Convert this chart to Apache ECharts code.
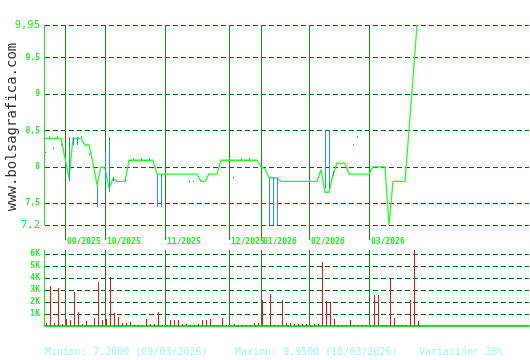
<!DOCTYPE html>
<html><head><meta charset="utf-8">
<script src="https://cdn.jsdelivr.net/npm/echarts@6/dist/echarts.min.js"></script>
<style>html,body{margin:0;padding:0;background:#fff}#c{width:530px;height:360px}</style>
</head><body><div id="c"></div>
<script>
// ---- data ----
const SLOTS = 122;
const monthStarts = [5, 15, 30, 46, 54, 66, 81];
const monthLabels = ['09/2025', '10/2025', '11/2025', '12/2025', '01/2026', '02/2026', '03/2026'];
const priceTicks = [7.2, 7.5, 8, 8.5, 9, 9.5, 9.95];
const volumeTicks = [1000, 2000, 3000, 4000, 5000, 6000];

const prices = [
  8.39, 8.39, 8.39, 8.39, 8.39, 8.12, 7.84, 8.39, 8.39, 8.39,
  8.30, 8.30, 8.05, 7.75, 8.00, 7.98, 7.70, 7.84, 7.80, 7.80,
  7.80, 8.09, 8.09, 8.09, 8.09, 8.09, 8.09, 8.09, 7.90, 7.90,
  7.90, 7.90, 7.90, 7.90, 7.90, 7.90, 7.90, 7.90, 7.90, 7.80,
  7.80, 7.90, 7.90, 7.90, 8.09, 8.09, 8.09, 8.09, 8.09, 8.09,
  8.09, 8.09, 8.09, 8.09, 8.00, 7.97, 7.85, 7.85, 7.85, 7.80,
  7.80, 7.80, 7.80, 7.80, 7.80, 7.80, 7.80, 7.80, 7.80, 7.96,
  7.65, 7.65, 7.89, 8.05, 8.05, 8.05, 7.90, 7.90, 7.90, 7.90,
  7.90, 7.90, 8.00, 8.00, 8.00, 8.00, 7.20, 7.80, 7.80, 7.80,
  7.80, 8.50, 9.22, 9.95
];

const volumes = [
  250, 3330, 250, 3170, 170, 560, 500, 2830, 1170, 170,
  420, 80, 670, 3670, 500, 550, 4080, 1060, 750, 250,
  250, 330, 80, 80, 80, 580, 170, 170, 1170, 80,
  50, 500, 500, 500, 170, 170, 80, 80, 170, 500,
  500, 580, 80, 80, 670, 80, 50, 170, 80, 80,
  80, 80, 250, 250, 2170, 80, 2670, 80, 80, 2170,
  250, 250, 170, 170, 170, 170, 50, 170, 170, 5330,
  2060, 2000, 580, 80, 80, 80, 500, 80, 80, 80,
  80, 50, 2580, 2580, 80, 80, 3920, 670, 80, 80,
  80, 2170, 6330, 420
];

// intraday low/high ranges
const rangeIdx  = [0, 1, 2, 3, 4, 6, 7, 8, 9, 11, 13, 15, 16, 17, 20, 22, 24, 26, 28, 29, 36, 37, 47, 49, 51, 56, 57, 58, 70, 71, 72, 77, 78];
const rangeLow  = [8.19, 8.40, 8.24, 8.40, 8.29, 7.80, 8.30, 8.30, 8.40, 8.16, 7.45, 7.80, 7.65, 7.80, 7.80, 8.10, 8.10, 8.10, 7.45, 7.45, 7.79, 7.79, 7.84, 8.10, 8.10, 7.20, 7.20, 7.20, 7.70, 7.70, 7.87, 8.29, 8.40];
const rangeHigh = [8.21, 8.42, 8.26, 8.42, 8.31, 8.41, 8.41, 8.41, 8.42, 8.18, 7.75, 8.20, 8.41, 7.86, 7.84, 8.12, 8.12, 8.12, 7.90, 7.90, 7.81, 7.81, 7.86, 8.12, 8.12, 7.85, 7.85, 7.85, 8.50, 8.50, 7.94, 8.31, 8.42];

const minDate = '09/03/2026';
const maxDate = '18/03/2026';
const siteName = 'www.bolsagrafica.com';

// ---- chart ----
const cats = Array.from({length: SLOTS}, (_, i) => String(i));
const isMonth = i => monthStarts.indexOf(i) >= 0;
const MONTH = '#128a12';
const GRID = '#006400';
const AXIS = '#22dd22';
const LABEL = '#22ee22';
const MONO = '"DejaVu Sans Mono", "Liberation Mono", monospace';
const fmt = v => String(v).replace('.', ',');

const pMin = Math.min(...prices), pMax = Math.max(...prices);
const variation = Math.round((pMax / pMin - 1) * 100);

const chart = echarts.init(document.getElementById('c'), null, {renderer: 'canvas'});
chart.setOption({
  animation: false,
  backgroundColor: '#ffffff',
  grid: [
    {left: 45, right: 1, top: 25, bottom: 135},
    {left: 45, right: 1, top: 250, bottom: 34}
  ],
  xAxis: [
    {
      type: 'category', gridIndex: 0, data: cats, boundaryGap: false,
      axisLine: {show: false},
      axisTick: {show: true, interval: (i) => isMonth(i), length: 15, lineStyle: {color: MONTH, width: 1}},
      splitLine: {show: true, interval: (i) => isMonth(i), lineStyle: {color: MONTH, width: 1, type: 'solid'}},
      axisLabel: {
        interval: (i) => isMonth(i),
        formatter: (v, i) => monthLabels[monthStarts.indexOf(i)] || '',
        align: 'left', margin: 13, color: LABEL, fontFamily: MONO, fontSize: 8, fontWeight: 'bold',
        padding: [0, 0, 0, 2]
      }
    },
    {
      type: 'category', gridIndex: 1, data: cats, boundaryGap: false,
      axisLine: {show: true, lineStyle: {color: AXIS, width: 2}},
      axisTick: {show: false},
      axisLabel: {show: false},
      splitLine: {show: true, interval: (i) => isMonth(i), lineStyle: {color: MONTH, width: 1, type: 'solid'}}
    }
  ],
  yAxis: [
    {
      type: 'value', gridIndex: 0, min: 7.2, max: 9.95, offset: 1,
      axisLine: {show: true, lineStyle: {color: AXIS, width: 1}},
      axisTick: {show: false, customValues: priceTicks},
      axisLabel: {
        customValues: priceTicks, showMinLabel: true, showMaxLabel: true, margin: 4,
        formatter: v => (v === 9.95 || v === 7.2) ? '{b|' + fmt(v) + '}' : '{s|' + fmt(v) + '}',
        rich: {
          b: {fontFamily: MONO, fontSize: 10.5, color: LABEL},
          s: {fontFamily: MONO, fontSize: 8, fontWeight: 'bold', color: LABEL}
        }
      },
      splitLine: {show: true, lineStyle: {color: GRID, width: 1, type: [5, 3]}}
    },
    {
      type: 'value', gridIndex: 1, min: 0, max: 6333, offset: 1,
      axisLine: {show: true, lineStyle: {color: AXIS, width: 1}},
      axisTick: {show: false, customValues: volumeTicks},
      axisLabel: {
        customValues: volumeTicks, margin: 4,
        formatter: v => (v / 1000) + 'K',
        fontFamily: MONO, fontSize: 8, fontWeight: 'bold', color: LABEL
      },
      splitLine: {show: true, lineStyle: {color: GRID, width: 1, type: [5, 3]}}
    }
  ],
  series: [
    {
      type: 'line', xAxisIndex: 0, yAxisIndex: 0, data: prices,
      showSymbol: false, lineStyle: {color: '#22ff22', width: 1.3}, z: 3
    },
    {
      type: 'custom', xAxisIndex: 0, yAxisIndex: 0,
      data: rangeIdx.map((i, k) => [i, rangeLow[k], rangeHigh[k]]),
      encode: {x: 0, y: [1, 2]},
      z: 4,
      renderItem: (params, api) => {
        const lo = api.coord([api.value(0), api.value(1)]);
        const hi = api.coord([api.value(0), api.value(2)]);
        const x = Math.round(lo[0]) + 0.5;
        let y2 = hi[1];
        if (lo[1] - y2 < 1) y2 = lo[1] - 1;
        return {type: 'line', shape: {x1: x, y1: lo[1], x2: x, y2: y2},
                style: {stroke: '#1fa0b0', lineWidth: 1}};
      }
    },
    {
      type: 'custom', xAxisIndex: 1, yAxisIndex: 1,
      data: volumes.map((v, i) => [i, v]),
      encode: {x: 0, y: 1},
      z: 3,
      renderItem: (params, api) => {
        const top = api.coord([api.value(0), api.value(1)]);
        const base = api.coord([api.value(0), 0]);
        const x = Math.round(top[0]) + 1;
        const yTop = Math.round(top[1]);
        return {type: 'rect', shape: {x: x, y: yTop, width: 1, height: Math.max(1, Math.round(base[1]) - yTop)},
                style: {fill: '#e81010'}};
      }
    }
  ],
  graphic: [
    {type: 'text', x: 12, y: 127, rotation: Math.PI / 2,
     style: {text: siteName, fill: '#333', font: '14px ' + MONO, textAlign: 'center', textVerticalAlign: 'middle'}},
    {type: 'text', x: 45, y: 352,
     style: {text: 'Minimo: ' + pMin.toFixed(4).replace('.', ',') + ' (' + minDate + ')', fill: '#9ef6f6', font: '10px ' + MONO, textVerticalAlign: 'middle'}},
    {type: 'text', x: 235, y: 352,
     style: {text: 'Maximo: ' + pMax.toFixed(4).replace('.', ',') + ' (' + maxDate + ')', fill: '#9ef6f6', font: '10px ' + MONO, textVerticalAlign: 'middle'}},
    {type: 'text', x: 419, y: 352,
     style: {text: 'Variación: ' + variation + '%', fill: '#9ef6f6', font: '10px ' + MONO, textVerticalAlign: 'middle'}}
  ]
});
</script>
</body></html>
